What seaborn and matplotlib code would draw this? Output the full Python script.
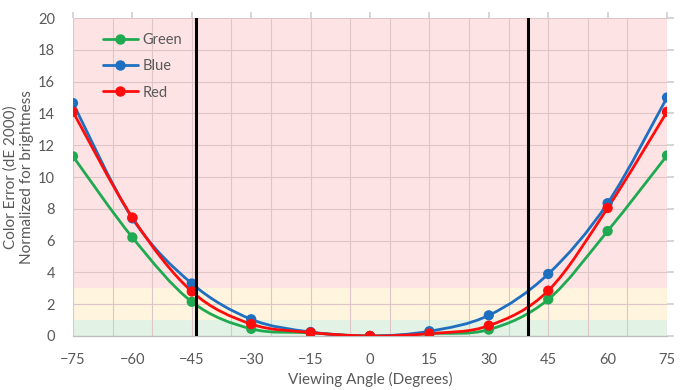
import numpy as np
import pandas as pd
import matplotlib
matplotlib.use("Agg")
import matplotlib.pyplot as plt
import seaborn as sns
from matplotlib.path import Path
from matplotlib.patches import PathPatch
from matplotlib.lines import Line2D

# data
angles = [-75, -60, -45, -30, -15, 0, 15, 30, 45, 60, 75]
green = [11.3, 6.2, 2.15, 0.45, 0.2, 0.0, 0.15, 0.4, 2.3, 6.6, 11.35]
blue = [14.65, 7.4, 3.3, 1.05, 0.25, 0.0, 0.3, 1.3, 3.9, 8.35, 15.0]
red = [14.1, 7.45, 2.8, 0.75, 0.22, 0.0, 0.15, 0.65, 2.85, 8.05, 14.1]
series_names = ["Green", "Blue", "Red"]
colors = {"Green": "#1faa52", "Blue": "#1f6fc0", "Red": "#ff0d0d"}
limit_lines = [-44, 40]
xticks = list(range(-75, 76, 15))
yticks = list(range(0, 21, 2))

sns.set_theme(style="white")
plt.rcParams["font.family"] = ["Lato", "DejaVu Sans"]

df = pd.DataFrame({
    "angle": angles * 3,
    "value": green + blue + red,
    "series": [n for n in series_names for _ in angles],
})

fig = plt.figure(figsize=(6.93, 3.9), dpi=100)
ax = fig.add_axes([0.1053, 0.1385, 0.8572, 0.8153])

# background zones
ax.axhspan(0, 1, color="#e2f3e6", zorder=0, lw=0)
ax.axhspan(1, 3, color="#fff4dd", zorder=0, lw=0)
ax.axhspan(3, 20, color="#fde3e3", zorder=0, lw=0)

# grid
for x in range(-75, 76, 10):
    ax.axvline(x, color="#dcc6c9", lw=0.8, zorder=1)
for y in yticks[1:]:
    ax.axhline(y, color="#dcc6c9", lw=0.8, zorder=1)


def smooth_path(xs, ys):
    # Excel style smoothed line (Catmull-Rom as cubic bezier)
    pts = np.column_stack([xs, ys])
    n = len(pts)
    verts = [pts[0]]
    codes = [Path.MOVETO]
    for i in range(n - 1):
        p0 = pts[max(i - 1, 0)]
        p1 = pts[i]
        p2 = pts[i + 1]
        p3 = pts[min(i + 2, n - 1)]
        verts += [p1 + (p2 - p0) / 6, p2 - (p3 - p1) / 6, p2]
        codes += [Path.CURVE4] * 3
    return Path(verts, codes)


for name, vals in zip(series_names, [green, blue, red]):
    ax.add_patch(PathPatch(smooth_path(angles, vals), fill=False,
                           edgecolor=colors[name], lw=2.0, zorder=3,
                           capstyle="round"))

sns.scatterplot(data=df, x="angle", y="value", hue="series",
                palette=colors, s=55, edgecolor="none", zorder=4,
                legend=False, ax=ax)

for x in limit_lines:
    ax.axvline(x, color="black", lw=2.2, zorder=5)

ax.set_xlim(-75, 75)
ax.set_ylim(0, 20)
ax.set_xticks(xticks)
ax.set_yticks(yticks)
ax.tick_params(axis="x", bottom=False, top=True, labelbottom=True,
               labeltop=False, direction="out", length=4, color="#d0d0d0",
               labelsize=10.5, labelcolor="#595959", pad=8)
ax.tick_params(axis="y", left=False, right=True, labelleft=True,
               labelright=False, direction="out", length=5, color="#d0d0d0",
               labelsize=10.5, labelcolor="#595959", pad=8)
for s in ["left", "right", "top"]:
    ax.spines[s].set_visible(False)
ax.spines["bottom"].set_color("#bfbfbf")
ax.spines["bottom"].set_linewidth(1.0)
ax.spines["bottom"].set_zorder(2)

ax.set_xlabel("Viewing Angle (Degrees)", fontsize=11, color="#595959",
              labelpad=4)
ax.set_ylabel("Color Error (dE 2000)\nNormalized for brightness",
              fontsize=11, color="#595959", linespacing=1.15)
ax.yaxis.set_label_coords(-0.066, 0.5)

handles = [Line2D([0], [0], color=colors[n], lw=2.0, marker="o",
                  markersize=6.5) for n in series_names]
leg = ax.legend(handles, series_names, loc="upper left",
                bbox_to_anchor=(0.028, 0.995), frameon=False, fontsize=10.5,
                labelspacing=0.85, handlelength=2.4, handletextpad=0.35)
for t in leg.get_texts():
    t.set_color("#595959")

fig.savefig("out.png", dpi=100)
